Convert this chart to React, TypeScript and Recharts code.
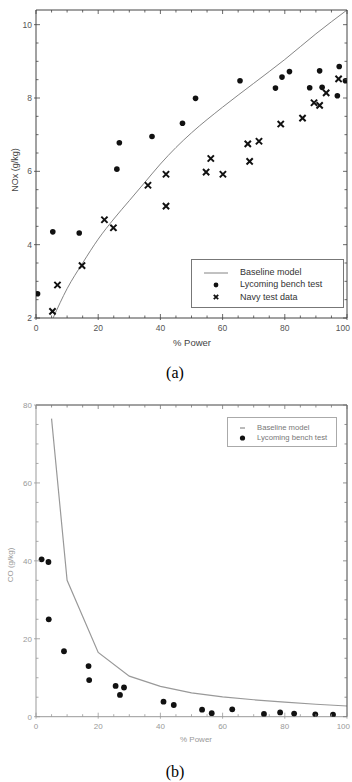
import { ComposedChart, Legend, Line, Scatter, XAxis, YAxis } from "recharts";

// shared axis ticks
const POWER_TICKS = [0, 5, 10, 15, 20, 25, 30, 35, 40, 45, 50, 55, 60, 65, 70, 75, 80, 85, 90, 95, 100];
const POWER_LABELS = [0, 20, 40, 60, 80, 100];

// (a) NOx
const NOX_TICKS = [2, 2.5, 3, 3.5, 4, 4.5, 5, 5.5, 6, 6.5, 7, 7.5, 8, 8.5, 9, 9.5, 10];
const NOX_LABELS = [2, 4, 6, 8, 10];
const NOX_MODEL_X = [5.5, 10, 15, 20, 25, 30, 35, 40, 45, 50, 60, 70, 80, 90, 100];
const NOX_MODEL_Y = [2.0, 2.8, 3.5, 4.15, 4.7, 5.2, 5.7, 6.2, 6.65, 7.05, 7.75, 8.4, 9.05, 9.75, 10.4];
const NOX_LYC_X = [0.5, 5.4, 13.9, 26, 26.8, 37.3, 47.1, 51.3, 65.6, 77, 79.1, 81.5, 88, 91.2, 92, 96.9, 97.5, 99.5];
const NOX_LYC_Y = [2.66, 4.35, 4.32, 6.06, 6.78, 6.95, 7.31, 7.99, 8.47, 8.27, 8.57, 8.72, 8.28, 8.74, 8.29, 8.06, 8.86, 8.47];
const NOX_NAVY_X = [5.3, 6.9, 14.8, 22, 24.9, 36, 41.8, 41.8, 54.7, 56.2, 60.1, 68.1, 68.7, 71.7, 78.7, 85.7, 89.4, 91.2, 93.3, 97.3];
const NOX_NAVY_Y = [2.18, 2.9, 3.43, 4.68, 4.46, 5.62, 5.92, 5.05, 5.98, 6.35, 5.92, 6.75, 6.27, 6.82, 7.29, 7.45, 7.87, 7.8, 8.14, 8.52];

// (b) CO
const CO_TICKS = [0, 5, 10, 15, 20, 25, 30, 35, 40, 45, 50, 55, 60, 65, 70, 75, 80];
const CO_LABELS = [0, 20, 40, 60, 80];
const CO_MODEL_X = [5, 10, 20, 30, 40, 50, 60, 70, 80, 90, 100];
const CO_MODEL_Y = [76.5, 35, 16.5, 10.4, 7.8, 6.1, 5.1, 4.35, 3.75, 3.2, 2.75];
const CO_LYC_X = [1.8, 4, 4.1, 9, 16.9, 17.1, 25.6, 27, 28.3, 41, 44.3, 53.4, 56.5, 63.1, 73.3, 78.5, 83, 89.8, 95.5];
const CO_LYC_Y = [40.4, 39.7, 25, 16.8, 13, 9.4, 7.9, 5.6, 7.5, 3.85, 3.0, 1.8, 0.9, 1.9, 0.7, 1.1, 0.8, 0.6, 0.5];

const pts = (xs: number[], ys: number[]) => xs.map((x, i) => ({ x, y: ys[i] }));

const SANS = "'Liberation Sans', Arial, sans-serif";
const SERIF = "'Liberation Serif', 'Times New Roman', serif";

type Side = "left" | "right" | "top" | "bottom";

// inward ticks with labels only on the major values
function makeTick(side: Side, labels: number[], color: string, textColor: string, fontSize: number, labelGap: number) {
  return (props: any) => {
    const { x, y, payload } = props;
    const v = payload.value;
    const major = labels.includes(v);
    const len = major ? 4 : 2.5;
    const last = v === labels[labels.length - 1];
    let c = [x, y, x, y];
    if (side === "left") c = [x - (major ? 2 : 0), y, x + len, y];
    if (side === "right") c = [x, y, x - len, y];
    if (side === "top") c = [x, y, x, y + len];
    if (side === "bottom") c = [x, y + (major ? 2 : 0), x, y - len];
    return (
      <g>
        <line x1={c[0]} y1={c[1]} x2={c[2]} y2={c[3]} stroke={color} strokeWidth={0.8} />
        {major && side === "left" && (
          <text x={x - 4} y={y + fontSize * 0.35} textAnchor="end" fontSize={fontSize} fill={textColor} fontFamily={SANS}>
            {v}
          </text>
        )}
        {major && side === "bottom" && (
          <text x={last ? x + 3 : x} y={y + labelGap} textAnchor={last ? "end" : "middle"} fontSize={fontSize} fill={textColor} fontFamily={SANS}>
            {v}
          </text>
        )}
      </g>
    );
  };
}

const Dot = (r: number) => (p: any) => <circle cx={p.cx} cy={p.cy} r={r} fill="#111" />;

const Cross = (p: any) => {
  const s = 2.4;
  return (
    <path
      d={`M${p.cx - s},${p.cy - s}L${p.cx + s},${p.cy + s}M${p.cx + s},${p.cy - s}L${p.cx - s},${p.cy + s}`}
      stroke="#111"
      strokeWidth={2}
      strokeLinecap="square"
    />
  );
};

function legendIcon(name: string, small: boolean) {
  if (name === "Baseline model") {
    return small ? <line x1={5} y1={5} x2={10} y2={5} stroke="#777" /> : <line x1={0} y1={5} x2={24} y2={5} stroke="#666" strokeWidth={0.8} />;
  }
  if (name === "Lycoming bench test") return <circle cx={small ? 7.5 : 12} cy={5} r={small ? 2.6 : 2.4} fill="#111" />;
  return <path d="M9.8,2.8L14.2,7.2M14.2,2.8L9.8,7.2" stroke="#111" strokeWidth={1.8} />;
}

const legendContent = (small: boolean) => (props: any) => {
  const items = props.payload ?? [];
  return (
    <div
      style={{
        border: `1px solid ${small ? "#aaa" : "#777"}`,
        background: "#fff",
        boxSizing: "border-box",
        height: small ? 30 : 49,
        paddingTop: small ? 4.5 : 6.5,
        fontFamily: SANS,
        fontSize: small ? 7.7 : 9,
        color: small ? "#777" : "#333",
      }}
    >
      {items.map((it: any) => (
        <div key={it.value} style={{ display: "flex", alignItems: "center", height: small ? 10.4 : 12.3 }}>
          <svg width={small ? 15 : 24} height={10} style={{ marginLeft: small ? 7 : 12, marginRight: small ? 7 : 12 }}>
            {legendIcon(it.value, small)}
          </svg>
          <span style={{ lineHeight: 1 }}>{it.value}</span>
        </div>
      ))}
    </div>
  );
};

const abs = (left: number, top: number): React.CSSProperties => ({ position: "absolute", left, top });

// axis sizes of 1px: recharts skips drawing an axis of zero size
const axisProps = { type: "number" as const, interval: 0, tickSize: 0, tickMargin: 0, allowDataOverflow: true, tickLine: false };

export default function App() {
  const darkAxis = "#444";
  const greyAxis = "#999";
  return (
    <div style={{ position: "absolute", left: 0, top: 0, width: 352, height: 782, background: "#fff" }}>
      {/* (a) NOx */}
      <div style={abs(0, 0)}>
        <ComposedChart width={352} height={345} margin={{ top: 9, right: 4, bottom: 26, left: 35 }}>
          <XAxis {...axisProps} xAxisId="b" dataKey="x" domain={[0, 100]} ticks={POWER_TICKS} height={1} stroke={darkAxis} tick={makeTick("bottom", POWER_LABELS, darkAxis, "#555", 8.5, 13)} />
          <XAxis {...axisProps} xAxisId="t" orientation="top" dataKey="x" domain={[0, 100]} ticks={POWER_TICKS} height={1} stroke={darkAxis} tick={makeTick("top", POWER_LABELS, darkAxis, "#555", 8.5, 0)} />
          <YAxis {...axisProps} yAxisId="l" dataKey="y" domain={[2, 10.4]} ticks={NOX_TICKS} width={1} stroke={darkAxis} tick={makeTick("left", NOX_LABELS, darkAxis, "#555", 8.5, 0)} />
          <YAxis {...axisProps} yAxisId="r" orientation="right" dataKey="y" domain={[2, 10.4]} ticks={NOX_TICKS} width={1} stroke={darkAxis} tick={makeTick("right", NOX_LABELS, darkAxis, "#555", 8.5, 0)} />
          <Line xAxisId="b" yAxisId="l" name="Baseline model" data={pts(NOX_MODEL_X, NOX_MODEL_Y)} dataKey="y" type="monotone" stroke="#777" strokeWidth={0.9} dot={false} isAnimationActive={false} legendType="line" />
          <Scatter xAxisId="b" yAxisId="l" name="Lycoming bench test" data={pts(NOX_LYC_X, NOX_LYC_Y)} dataKey="y" shape={Dot(2.8)} isAnimationActive={false} />
          <Scatter xAxisId="b" yAxisId="l" name="Navy test data" data={pts(NOX_NAVY_X, NOX_NAVY_Y)} dataKey="y" shape={Cross} isAnimationActive={false} />
          <Legend layout="vertical" align="center" verticalAlign="middle" content={legendContent(false)} wrapperStyle={{ left: 191, top: 259, width: 153 }} />
        </ComposedChart>
      </div>
      <div style={{ ...abs(15, 170), transform: "translate(-50%, -50%) rotate(-90deg)", fontFamily: SANS, fontSize: 9, color: "#444", whiteSpace: "nowrap" }}>NOx (g/kg)</div>
      <div style={{ ...abs(192, 342), transform: "translate(-50%, -50%)", fontFamily: SANS, fontSize: 9.5, color: "#444", whiteSpace: "nowrap" }}>% Power</div>
      <div style={{ ...abs(175, 373), transform: "translate(-50%, -50%)", fontFamily: SERIF, fontSize: 16, color: "#000", whiteSpace: "nowrap" }}>(a)</div>

      {/* (b) CO */}
      <div style={abs(0, 395)}>
        <ComposedChart width={352} height={345} margin={{ top: 9, right: 4, bottom: 22.3, left: 35 }}>
          <XAxis {...axisProps} xAxisId="b" dataKey="x" domain={[0, 100]} ticks={POWER_TICKS} height={1} stroke={greyAxis} tick={makeTick("bottom", POWER_LABELS, greyAxis, "#999", 8, 12)} />
          <XAxis {...axisProps} xAxisId="t" orientation="top" dataKey="x" domain={[0, 100]} ticks={POWER_TICKS} height={1} stroke={darkAxis} tick={makeTick("top", POWER_LABELS, "#777", "#999", 8, 0)} />
          <YAxis {...axisProps} yAxisId="l" dataKey="y" domain={[0, 80]} ticks={CO_TICKS} width={1} stroke={greyAxis} tick={makeTick("left", CO_LABELS, greyAxis, "#999", 8, 0)} />
          <YAxis {...axisProps} yAxisId="r" orientation="right" dataKey="y" domain={[0, 80]} ticks={CO_TICKS} width={1} stroke={darkAxis} tick={makeTick("right", CO_LABELS, "#777", "#999", 8, 0)} />
          <Line xAxisId="b" yAxisId="l" name="Baseline model" data={pts(CO_MODEL_X, CO_MODEL_Y)} dataKey="y" type="linear" stroke="#999" strokeWidth={1.2} dot={false} isAnimationActive={false} legendType="line" />
          <Scatter xAxisId="b" yAxisId="l" name="Lycoming bench test" data={pts(CO_LYC_X, CO_LYC_Y)} dataKey="y" shape={Dot(2.9)} isAnimationActive={false} />
          <Legend layout="vertical" align="center" verticalAlign="middle" content={legendContent(true)} wrapperStyle={{ left: 227, top: 22, width: 110 }} />
        </ComposedChart>
      </div>
      <div style={{ ...abs(10, 565), transform: "translate(-50%, -50%) rotate(-90deg)", fontFamily: SANS, fontSize: 8, color: "#999", whiteSpace: "nowrap" }}>CO (g/kg)</div>
      <div style={{ ...abs(196, 739), transform: "translate(-50%, -50%)", fontFamily: SANS, fontSize: 8, color: "#999", whiteSpace: "nowrap" }}>% Power</div>
      <div style={{ ...abs(175, 772), transform: "translate(-50%, -50%)", fontFamily: SERIF, fontSize: 16, color: "#000", whiteSpace: "nowrap" }}>(b)</div>
    </div>
  );
}
